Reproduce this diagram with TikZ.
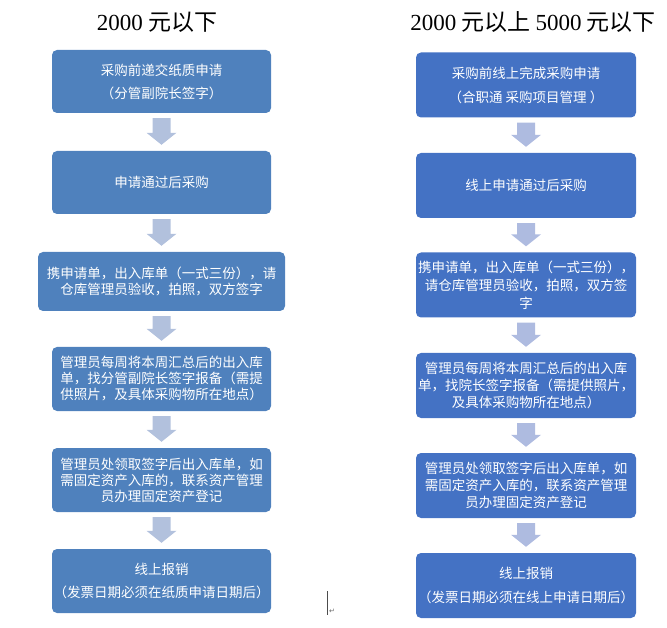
\documentclass[tikz,border=0pt]{standalone}
\usepackage{fontspec}
\setmainfont{Noto Sans CJK SC}
\newfontfamily\digits{Liberation Serif}
\newfontfamily\symbolfont{DejaVu Sans}
\usetikzlibrary{calc}
\definecolor{oldblue}{HTML}{4F81BD}
\definecolor{newblue}{HTML}{4472C4}
\definecolor{oldarrow}{HTML}{B2C1DD}
\definecolor{newarrow}{HTML}{AEBBE0}
\begin{document}
\begin{tikzpicture}[x=1pt,y=-1pt,
  box/.style={rounded corners=5pt,text=white,align=center,inner sep=0pt,font=\fontsize{13.5}{16}\selectfont},
  oldbox/.style={box,fill=oldblue,minimum width=219pt,minimum height=64pt},
  newbox/.style={box,fill=newblue,minimum width=220pt,minimum height=65pt},
  title/.style={font=\fontsize{23}{28}\selectfont}]
\useasboundingbox(0,0) rectangle(667,628);
\node[title] (t1) at (157,22) {{\digits 2000} 元以下};
\node[title] (t2) at (533,22) {{\digits 2000} 元以上 {\digits 5000} 元以下};
\node[oldbox,minimum height=63pt] (l1) at (161.5,81.5) {采购前递交纸质申请\\[7pt]（分管副院长签字）};
\node[oldbox,minimum height=63pt] (l2) at (161.5,182.5) {申请通过后采购};
\node[oldbox,minimum width=247pt,minimum height=59pt] (l3) at (161.5,281.5) {携申请单，出入库单（一式三份），请\\仓库管理员验收，拍照，双方签字};
\node[oldbox] (l4) at (161.5,379) {管理员每周将本周汇总后的出入库\\单，找分管副院长签字报备（需提\\供照片，及具体采购物所在地点）};
\node[oldbox] (l5) at (161.5,480) {管理员处领取签字后出入库单，如\\需固定资产入库的，联系资产管理\\员办理固定资产登记};
\node[oldbox] (l6) at (161.5,581) {线上报销\hspace{13pt}\\[7pt]（发票日期必须在纸质申请日期后）};
\node[newbox] (r1) at (526,85) {采购前线上完成采购申请\\[8pt]（合职通 采购项目管理 ）};
\node[newbox] (r2) at (526,185.5) {线上申请通过后采购};
\node[newbox,font=\fontsize{13.5}{18}\selectfont] (r3) at (526,285) {携申请单，出入库单（一式三份），\\请仓库管理员验收，拍照，双方签\\字};
\node[newbox,font=\fontsize{13.5}{17}\selectfont] (r4) at (526,385.5) {管理员每周将本周汇总后的出入库\\单，找院长签字报备（需提供照片，\\及具体采购物所在地点）};
\node[newbox,font=\fontsize{13.5}{17}\selectfont] (r5) at (526,485.5) {管理员处领取签字后出入库单，如\\需固定资产入库的，联系资产管理\\员办理固定资产登记};
\node[newbox] (r6) at (526,585.5) {线上报销\\[8pt]（发票日期必须在线上申请日期后）};
\foreach \a/\b/\c in {l1/l2/oldarrow,l2/l3/oldarrow,l3/l4/oldarrow,l4/l5/oldarrow,l5/l6/oldarrow,
  r1/r2/newarrow,r2/r3/newarrow,r3/r4/newarrow,r4/r5/newarrow,r5/r6/newarrow}
  \fill[\c]($(\a.south)+(-9,5)$)--($(\a.south)+(9,5)$)--($(\b.north)+(9,-18)$)--($(\b.north)+(15,-18)$)
    --($(\b.north)+(0,-6)$)--($(\b.north)+(-15,-18)$)--($(\b.north)+(-9,-18)$)--cycle;
\draw[black!70,line width=0.8pt](327,591)--(327,615);
\node[text=black!60,font=\symbolfont\fontsize{7}{7}\selectfont] (ret) at (332,611) {↵};
\end{tikzpicture}
\end{document}
